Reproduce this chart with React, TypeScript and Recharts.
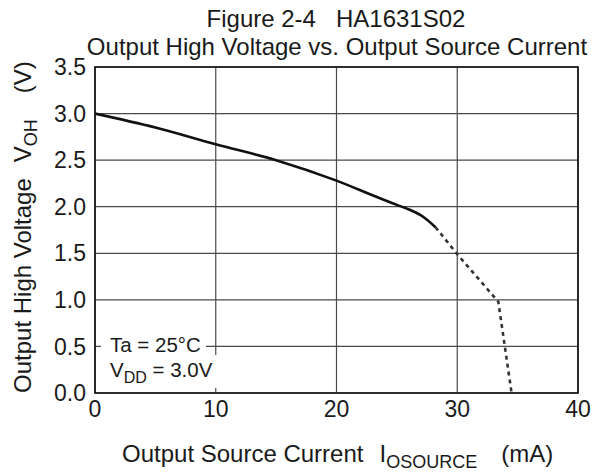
import React from "react";
import { LineChart, Line, XAxis, YAxis, CartesianGrid } from "recharts";

const solidCurrent = [0, 5, 10, 15, 20, 23.6, 25, 26, 27.2, 28.2];
const solidVoltage = [3.0, 2.85, 2.67, 2.5, 2.28, 2.09, 2.02, 1.97, 1.89, 1.78];
const dashCurrent = [28.2, 30, 33.4, 34.5];
const dashVoltage = [1.78, 1.49, 0.98, 0.0];
const xTicks = [0, 10, 20, 30, 40];
const yTicks = [0, 0.5, 1.0, 1.5, 2.0, 2.5, 3.0, 3.5];

const solidData = solidCurrent.map((x, i) => ({ x, v: solidVoltage[i] }));
const dashData = dashCurrent.map((x, i) => ({ x, v: dashVoltage[i] }));

const W = 601;
const H = 472;
const PL = 95, PR = 578, PT = 67, PB = 393;
const FONT = "'Liberation Sans', Arial, sans-serif";
const INK = "#1a1a1a";

export default function App() {
  return (
    <div style={{ position: "absolute", left: 0, top: 0, width: W, height: H, background: "#fff", fontFamily: FONT }}>
      <LineChart
        width={W}
        height={H}
        margin={{ top: PT, right: W - PR, bottom: H - PB - 30, left: 0 }}
      >
        <CartesianGrid stroke="#4a4a4a" strokeWidth={1.2} horizontalValues={yTicks} verticalValues={xTicks} />
        <XAxis
          type="number"
          dataKey="x"
          domain={[0, 40]}
          ticks={xTicks}
          height={30}
          axisLine={false}
          tickLine={false}
          tickMargin={2}
          tick={{ fill: INK, fontSize: 23, fontFamily: FONT }}
          allowDataOverflow
        />
        <YAxis
          type="number"
          domain={[0, 3.5]}
          ticks={yTicks}
          width={PL}
          axisLine={false}
          tickLine={false}
          tickMargin={3}
          tickFormatter={(v: number) => v.toFixed(1)}
          tick={{ fill: INK, fontSize: 23, fontFamily: FONT }}
        />
        <Line data={solidData} dataKey="v" type="monotone" stroke="#111" strokeWidth={2.6} dot={false} isAnimationActive={false} />
        <Line data={dashData} dataKey="v" type="linear" stroke="#333" strokeWidth={2.6} strokeDasharray="4 4" dot={false} isAnimationActive={false} />
      </LineChart>
      <svg width={W} height={H} style={{ position: "absolute", left: 0, top: 0, pointerEvents: "none" }}>
        <rect x={101} y={335} width={105} height={20} fill="#fff" />
        <rect x={101} y={355} width={123} height={33} fill="#fff" />
        <rect x={PL} y={PT} width={PR - PL} height={PB - PT} fill="none" stroke="#111" strokeWidth={1.6} />
        <text x={110} y={352} fontSize={20.5} fill={INK} fontFamily={FONT}>Ta = 25°C</text>
        <text x={110} y={377} fontSize={20.5} fill={INK} fontFamily={FONT}>
          V<tspan fontSize={16} dy={6}>DD</tspan><tspan dy={-6}> = 3.0V</tspan>
        </text>
        <text x={336} y={27} textAnchor="middle" fontSize={24} fill={INK} fontFamily={FONT} xmlSpace="preserve">Figure 2-4   HA1631S02</text>
        <text x={337} y={55} textAnchor="middle" fontSize={24} fill={INK} fontFamily={FONT}>Output High Voltage vs. Output Source Current</text>
        <text x={122} y={462} fontSize={24} fill={INK} fontFamily={FONT}>
          Output Source Current
          <tspan dx={16}>I</tspan>
          <tspan fontSize={18} dy={6}>OSOURCE</tspan>
          <tspan dx={24} dy={-6}>(mA)</tspan>
        </text>
        <text transform="translate(31, 393) rotate(-90)" fontSize={24} fill={INK} fontFamily={FONT}>
          Output High Voltage
          <tspan dx={16}>V</tspan>
          <tspan fontSize={18} dy={6}>OH</tspan>
          <tspan dx={26} dy={-6}>(V)</tspan>
        </text>
      </svg>
    </div>
  );
}
